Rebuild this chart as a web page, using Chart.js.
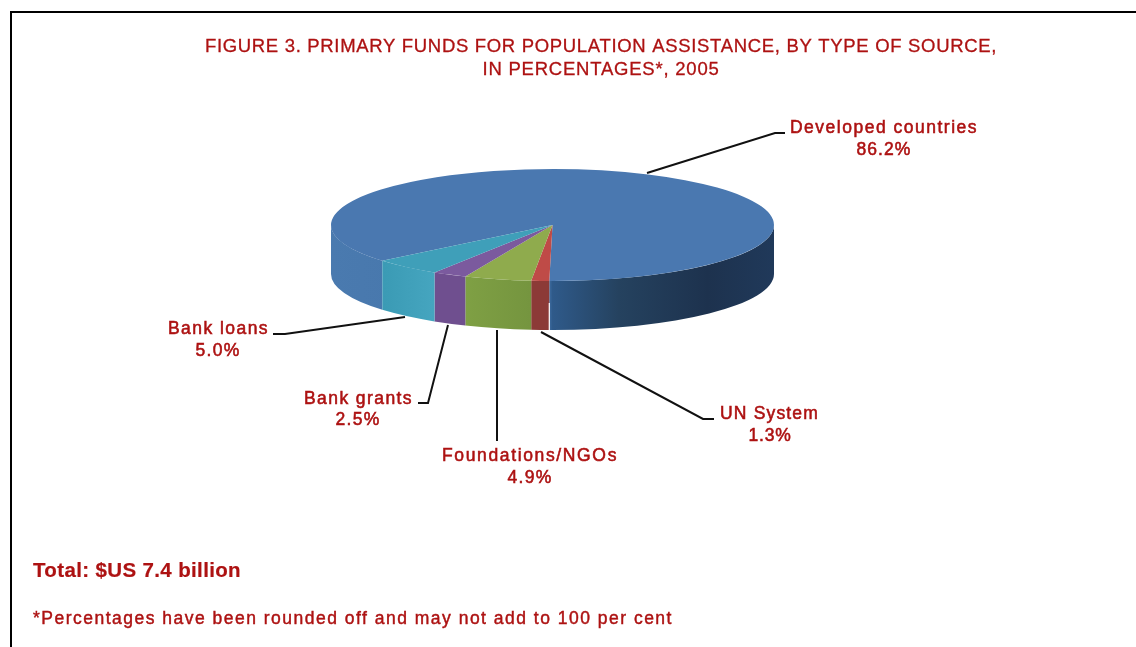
<!DOCTYPE html>
<html>
<head>
<meta charset="utf-8">
<style>
  html, body { margin: 0; padding: 0; background: #fff; overflow: hidden; }
  canvas { display: block; }
</style>
<script src="https://cdn.jsdelivr.net/npm/chart.js@4"></script>
</head>
<body>
<canvas id="pie-chart" width="1136" height="647"></canvas>
<script>
const categories = ["Developed countries", "UN System", "Foundations/NGOs", "Bank grants", "Bank loans"];
const shares = [86.2, 1.3, 4.9, 2.5, 5.0];
const topColors = ["#4a78b0", "#bf4b47", "#8fab4d", "#7b5a9e", "#3f9fb9"];

// wall colours, stops run across the full width of the pie
const sideStops = [
  [[0, "#4a7aaf"], [0.49, "#4373a8"], [0.5, "#2f5a8a"], [0.65, "#25425f"], [0.85, "#1d324e"], [1, "#20395a"]],
  [[0, "#8c3a37"], [1, "#8c3a37"]],
  [[0.3, "#7fa044"], [0.45, "#75953f"]],
  [[0, "#6f4f8f"], [1, "#6f4f8f"]],
  [[0.11, "#3a9ab4"], [0.23, "#45a5bf"]],
];

const titleLines = ["FIGURE 3. PRIMARY FUNDS FOR POPULATION ASSISTANCE, BY TYPE OF SOURCE,", "IN PERCENTAGES*, 2005"];
const totalNote = "Total: $US 7.4 billion";
const roundNote = "*Percentages have been rounded off and may not add to 100 per cent";

// pie look
const pieX = 552.5, pieY = 225, pieRx = 221.5, pieRy = 56, pieDepth = 49;
const red = "#ad1212";

// label layout: name x/y/width, value x/y/width, leader line
const labelSpots = [
  { x: 884, y: 128, w: 188, vx: 884, vy: 150, vw: 55, line: [[647, 173], [775, 133], [785, 133]] },
  { x: 769.5, y: 414, w: 99, vx: 770, vy: 436, vw: 43, line: [[541, 332], [703, 419], [714, 419]] },
  { x: 530, y: 456, w: 176, vx: 530, vy: 478, vw: 45, line: [[497, 330], [497, 441]] },
  { x: 358.5, y: 399, w: 109, vx: 358, vy: 420, vw: 45, line: [[448, 325], [428, 403], [418, 403]] },
  { x: 218.5, y: 329, w: 101, vx: 218, vy: 351, vw: 45, line: [[405, 317], [285, 334], [273, 334]] },
];

// spreads the letters so the text takes the width it has in the picture
function fitText(ctx, text, x, y, width) {
  ctx.letterSpacing = "0px";
  const extra = (width - ctx.measureText(text).width) / text.length;
  ctx.letterSpacing = extra.toFixed(2) + "px";
  ctx.fillText(text, x, y);
  ctx.strokeText(text, x, y);
}

const pie3d = {
  id: "pie3d",
  beforeDatasetsDraw(chart) {
    const ctx = chart.ctx;
    const arcs = chart.getDatasetMeta(0).data;
    arcs.forEach((arc, i) => {
      const grad = ctx.createLinearGradient(pieX - pieRx, 0, pieX + pieRx, 0);
      sideStops[i].forEach(s => grad.addColorStop(s[0], s[1]));
      ctx.fillStyle = grad;
      // only the part of the slice on the front half gets a wall
      for (let k = -2; k <= 2; k++) {
        const a0 = Math.max(arc.startAngle, k * 2 * Math.PI);
        const a1 = Math.min(arc.endAngle, k * 2 * Math.PI + Math.PI);
        if (a1 <= a0) continue;
        ctx.beginPath();
        ctx.ellipse(pieX, pieY + pieDepth, pieRx, pieRy, 0, a0, a1);
        ctx.ellipse(pieX, pieY, pieRx, pieRy, 0, a1, a0, true);
        ctx.closePath();
        ctx.fill();
      }
    });
    // small gap in the wall where the big slice ends
    const endX = pieX + pieRx * Math.cos(arcs[0].endAngle);
    ctx.strokeStyle = "#fff";
    ctx.lineWidth = 1.2;
    ctx.beginPath();
    ctx.moveTo(endX, pieY + pieRy + 22);
    ctx.lineTo(endX, pieY + pieRy + pieDepth + 1);
    ctx.stroke();

    ctx.save();
    const a = arcs[0];
    ctx.translate(pieX, pieY);
    ctx.scale(1, pieRy / a.outerRadius);
    ctx.translate(-a.x, -a.y);
  },
  afterDatasetsDraw(chart) {
    chart.ctx.restore();
  },
  afterDraw(chart) {
    const ctx = chart.ctx;
    ctx.save();

    // frame, top and left only
    ctx.strokeStyle = "#000";
    ctx.lineWidth = 2;
    ctx.beginPath();
    ctx.moveTo(11, 647);
    ctx.lineTo(11, 12);
    ctx.lineTo(1136, 12);
    ctx.stroke();

    // leader lines
    ctx.strokeStyle = "#111";
    ctx.lineWidth = 2;
    labelSpots.forEach(s => {
      ctx.beginPath();
      s.line.forEach((p, n) => (n ? ctx.lineTo(p[0], p[1]) : ctx.moveTo(p[0], p[1])));
      ctx.stroke();
    });

    // labels
    ctx.fillStyle = red;
    ctx.strokeStyle = red;
    ctx.lineWidth = 0.3;
    ctx.textBaseline = "middle";
    ctx.textAlign = "center";
    ctx.font = "18.5px 'Liberation Sans'";
    fitText(ctx, titleLines[0], 601, 47, 792);
    fitText(ctx, titleLines[1], 601, 70, 237);

    ctx.lineWidth = 0.55;
    ctx.font = "17.5px 'Liberation Sans'";
    categories.forEach((name, i) => {
      const s = labelSpots[i];
      fitText(ctx, name, s.x, s.y, s.w);
      fitText(ctx, shares[i].toFixed(1) + "%", s.vx, s.vy, s.vw);
    });

    ctx.textAlign = "left";
    ctx.font = "bold 20.5px 'Liberation Sans'";
    ctx.lineWidth = 0.2;
    fitText(ctx, totalNote, 33, 571, 208);
    ctx.lineWidth = 0.45;
    ctx.font = "17.5px 'Liberation Sans'";
    fitText(ctx, roundNote, 33, 619, 640);
    ctx.restore();
  },
};

new Chart("pie-chart", {
  type: "pie",
  data: {
    labels: categories,
    datasets: [{ data: shares, backgroundColor: topColors, borderWidth: 0 }],
  },
  options: {
    responsive: false,
    animation: false,
    rotation: -129.8,
    layout: { padding: { left: 331, right: 362, top: 2, bottom: 2 } },
    plugins: { legend: { display: false }, tooltip: { enabled: false } },
  },
  plugins: [pie3d],
});
</script>
</body>
</html>
